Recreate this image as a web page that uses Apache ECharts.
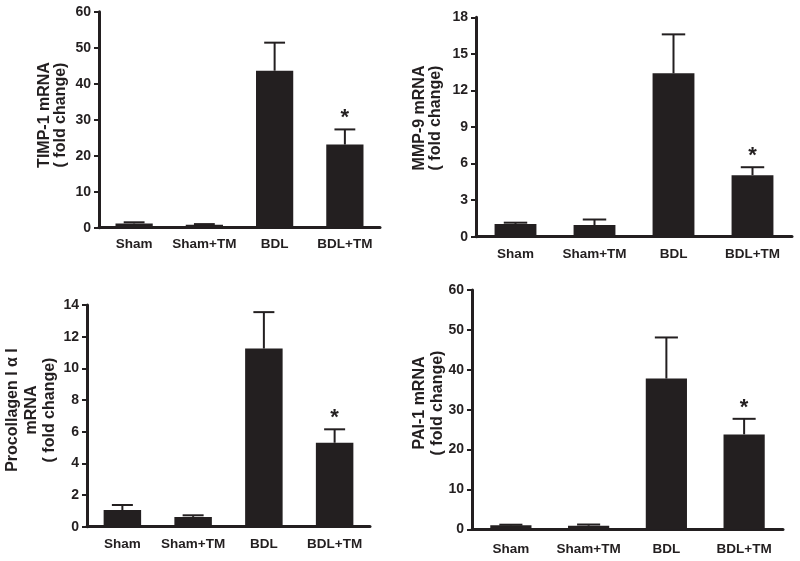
<!DOCTYPE html>
<html>
<head>
<meta charset="utf-8">
<script src="https://cdn.jsdelivr.net/npm/echarts@6/dist/echarts.min.js"></script>
<style>
html,body{margin:0;padding:0;background:#fff;}
#chart{width:800px;height:561px;}
</style>
</head>
<body>
<div id="chart"></div>
<script>
// ---- data ----
const categories = ['Sham', 'Sham+TM', 'BDL', 'BDL+TM'];

const timpMean = [1.2, 0.8, 43.6, 23.1];
const timpErr  = [0.3, 0.2, 7.8, 4.2];

const mmpMean = [1.05, 0.96, 13.4, 5.05];
const mmpErr  = [0.1, 0.45, 3.2, 0.65];

const procMean = [1.05, 0.62, 11.25, 5.3];
const procErr  = [0.32, 0.1, 2.3, 0.85];

const paiMean = [1.0, 0.9, 37.8, 23.8];
const paiErr  = [0.15, 0.3, 10.3, 3.9];

const significant = [false, false, false, true];

const timpTicks = [0, 10, 20, 30, 40, 50, 60];
const mmpTicks  = [0, 3, 6, 9, 12, 15, 18];
const procTicks = [0, 2, 4, 6, 8, 10, 12, 14];
const paiTicks  = [0, 10, 20, 30, 40, 50, 60];

const timpTitle = ['TIMP-1 mRNA', '( fold change)'];
const mmpTitle  = ['MMP-9 mRNA', '( fold change)'];
const procTitle = ['Procollagen I \u03b1 I', 'mRNA', '( fold change)'];
const paiTitle  = ['PAI-1 mRNA', '( fold change)'];

// ---- layout ----
const INK = '#231f20';
const FONT = '"Liberation Sans", Arial, sans-serif';

const panels = [
  { mean: timpMean, err: timpErr, ticks: timpTicks, title: timpTitle,
    grid: { left: 99, top: 11.7, width: 281, height: 216 }, labelMargin: 10,
    titlePos: [53, 115], lineHeight: 16 },
  { mean: mmpMean, err: mmpErr, ticks: mmpTicks, title: mmpTitle,
    grid: { left: 476, top: 17.3, width: 316, height: 219.4 }, labelMargin: 11,
    titlePos: [428, 118], lineHeight: 16 },
  { mean: procMean, err: procErr, ticks: procTicks, title: procTitle,
    grid: { left: 87, top: 305, width: 283, height: 221.7 }, labelMargin: 11,
    titlePos: [31.5, 410], lineHeight: 18.5 },
  { mean: paiMean, err: paiErr, ticks: paiTicks, title: paiTitle,
    grid: { left: 472, top: 290, width: 311, height: 239.3 }, labelMargin: 13,
    titlePos: [429, 403], lineHeight: 18 }
];

const BAR_FRAC = 0.53;

const grid = [], xAxis = [], yAxis = [], series = [], graphic = [];

panels.forEach((p, k) => {
  grid.push(p.grid);
  const ticks = p.ticks;
  const interval = ticks[1] - ticks[0];
  xAxis.push({
    type: 'category', gridIndex: k, data: categories,
    axisLine: { lineStyle: { color: INK, width: 3 } },
    axisTick: { show: false },
    axisLabel: { interval: 0, color: INK, fontFamily: FONT, fontWeight: 'bold', fontSize: 13.5, margin: p.labelMargin }
  });
  yAxis.push({
    type: 'value', gridIndex: k,
    min: ticks[0], max: ticks[ticks.length - 1], interval: interval,
    splitLine: { show: false },
    axisLine: { show: true, lineStyle: { color: INK, width: 3 } },
    axisTick: { show: true, length: 5, lineStyle: { color: INK, width: 2 } },
    axisLabel: { color: INK, fontFamily: FONT, fontWeight: 'bold', fontSize: 14, margin: 8 }
  });
  series.push({
    type: 'bar', xAxisIndex: k, yAxisIndex: k,
    data: p.mean, barWidth: (BAR_FRAC * 100) + '%',
    itemStyle: { color: INK }, silent: true
  });
  series.push({
    type: 'custom', xAxisIndex: k, yAxisIndex: k, silent: true, z: 5,
    data: p.mean.map((m, i) => [i, m, p.err[i], significant[i] ? 1 : 0]),
    renderItem: function (params, api) {
      const i = api.value(0), m = api.value(1), e = api.value(2), sig = api.value(3);
      const p0 = api.coord([i, m]);
      const p1 = api.coord([i, m + e]);
      const bw = api.size([1, 0])[0] * BAR_FRAC;
      const half = bw * 0.28;
      const children = [
        { type: 'line', shape: { x1: p0[0], y1: p0[1], x2: p1[0], y2: p1[1] },
          style: { stroke: INK, lineWidth: 2 } },
        { type: 'line', shape: { x1: p1[0] - half, y1: p1[1], x2: p1[0] + half, y2: p1[1] },
          style: { stroke: INK, lineWidth: 2 } }
      ];
      if (sig) {
        children.push({ type: 'text', x: p1[0], y: p1[1] - 11,
          style: { text: '*', font: 'bold 22px ' + FONT, fill: INK,
                   textAlign: 'center', textVerticalAlign: 'middle' } });
      }
      return { type: 'group', children: children };
    }
  });
  graphic.push({
    type: 'text', x: p.titlePos[0], y: p.titlePos[1], rotation: Math.PI / 2,
    style: { text: p.title.join('\n'), font: 'bold 16px ' + FONT, fill: INK,
             textAlign: 'center', textVerticalAlign: 'middle', lineHeight: p.lineHeight }
  });
});

const chart = echarts.init(document.getElementById('chart'), null, { renderer: 'canvas' });
chart.setOption({
  animation: false,
  backgroundColor: '#fff',
  grid: grid, xAxis: xAxis, yAxis: yAxis, series: series, graphic: graphic
});
</script>
</body>
</html>
